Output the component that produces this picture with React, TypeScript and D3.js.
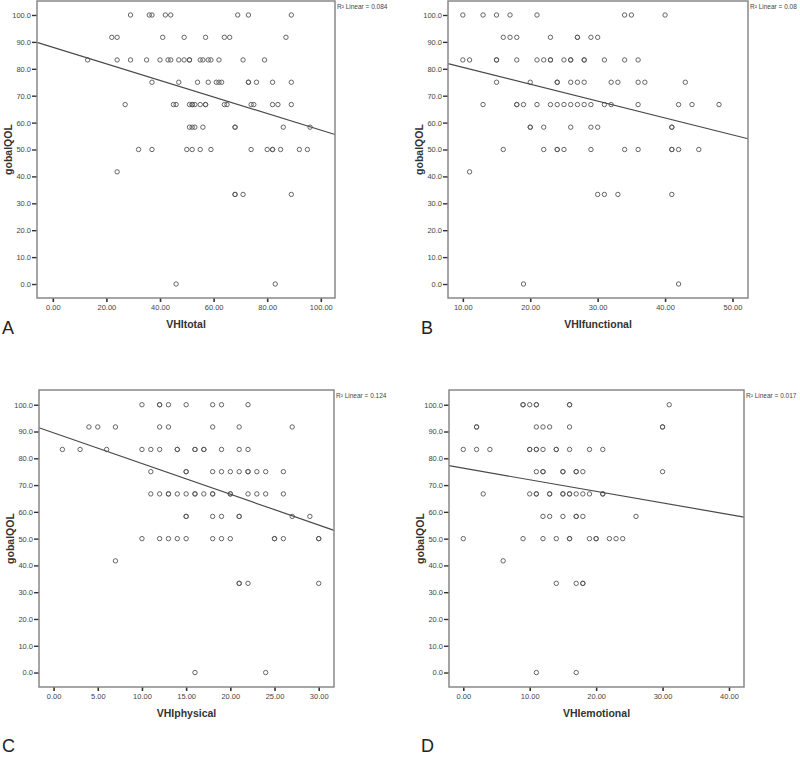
import React, { useEffect, useRef } from 'react';
import * as d3 from 'd3';

// gobalQOL takes only these values; each panel lists the VHI x-values seen at each level
const qolLevels = [100, 91.7, 83.3, 75, 66.7, 58.3, 50, 41.7, 33.3, 0];

const vhiTotal = [
  [29, 36, 37, 42, 44, 69, 73, 89],
  [22, 24, 41, 49, 57, 64, 66, 87],
  [13, 24, 29, 35, 40, 43, 44, 47, 49, 51, 51, 55, 56, 58, 59, 62, 71, 79],
  [37, 47, 54, 58, 61, 62, 63, 73, 73, 76, 82, 89],
  [27, 45, 46, 51, 52, 52, 53, 55, 57, 57, 64, 65, 74, 75, 82, 84, 89],
  [51, 52, 53, 56, 68, 68, 86, 96],
  [32, 37, 50, 52, 55, 59, 74, 80, 82, 82, 85, 92, 95],
  [24],
  [68, 68, 71, 89],
  [46, 83],
];

const vhiFunctional = [
  [10, 13, 15, 17, 21, 34, 35, 40],
  [16, 17, 18, 23, 27, 27, 29, 30],
  [10, 11, 15, 15, 18, 21, 22, 23, 23, 25, 26, 26, 28, 28, 31, 34, 36],
  [15, 20, 24, 24, 26, 27, 28, 32, 33, 36, 37, 43],
  [13, 18, 18, 19, 21, 23, 24, 25, 26, 27, 28, 29, 31, 32, 36, 42, 44, 48],
  [20, 20, 22, 26, 29, 30, 41, 41],
  [16, 22, 24, 24, 25, 29, 34, 36, 41, 41, 42, 45],
  [11],
  [30, 31, 33, 41],
  [19, 42],
];

const vhiPhysical = [
  [10, 12, 12, 13, 15, 18, 19, 22],
  [4, 5, 7, 12, 13, 18, 21, 27],
  [1, 3, 6, 10, 11, 12, 14, 14, 16, 16, 17, 17, 19, 21, 22],
  [11, 15, 15, 18, 19, 20, 21, 22, 22, 23, 24, 26],
  [11, 12, 13, 13, 14, 15, 16, 16, 17, 18, 18, 20, 20, 22, 23, 24, 26],
  [15, 15, 18, 19, 21, 21, 27, 29],
  [10, 12, 13, 14, 15, 18, 19, 20, 25, 25, 26, 30, 30],
  [7],
  [21, 21, 22, 30],
  [16, 24],
];

const vhiEmotional = [
  [9, 9, 10, 11, 11, 16, 16, 31],
  [2, 2, 11, 12, 13, 16, 30, 30],
  [0, 2, 4, 10, 10, 11, 11, 12, 14, 14, 16, 19, 21],
  [11, 12, 12, 15, 15, 17, 17, 18, 30],
  [3, 10, 11, 11, 13, 13, 15, 15, 16, 16, 17, 18, 19, 21, 21],
  [12, 13, 15, 17, 17, 18, 26],
  [0, 9, 12, 14, 16, 16, 19, 20, 20, 22, 23, 24],
  [6],
  [14, 17, 18, 18],
  [11, 17],
];

// [intercept, slope] of the linear fit lines
const fitTotal = [88.0, -0.308];
const fitFunctional = [86.8, -0.627];
const fitPhysical = [89.5, -1.147];
const fitEmotional = [76.3, -0.432];

const rSquared = ['0.084', '0.08', '0.124', '0.017'];
const xTitles = ['VHItotal', 'VHIfunctional', 'VHIphysical', 'VHIemotional'];
const panelLetters = ['A', 'B', 'C', 'D'];
const xTicksTotal = [0, 20, 40, 60, 80, 100];
const xTicksFunctional = [10, 20, 30, 40, 50];
const xTicksPhysical = [0, 5, 10, 15, 20, 25, 30];
const xTicksEmotional = [0, 10, 20, 30, 40];
const yTicks = [0, 10, 20, 30, 40, 50, 60, 70, 80, 90, 100];

const panels = [
  { data: vhiTotal, fit: fitTotal, xTicks: xTicksTotal, xDomain: [-5.9, 105.3], yDomain: [-5.2, 105.2], box: [37, 1, 335, 298], letter: [2, 334] },
  { data: vhiFunctional, fit: fitFunctional, xTicks: xTicksFunctional, xDomain: [7.8, 52.3], yDomain: [-5.2, 105.2], box: [448, 1, 748, 298], letter: [421, 334] },
  { data: vhiPhysical, fit: fitPhysical, xTicks: xTicksPhysical, xDomain: [-1.65, 31.73], yDomain: [-5.4, 105.5], box: [39, 390, 334, 687], letter: [2, 752] },
  { data: vhiEmotional, fit: fitEmotional, xTicks: xTicksEmotional, xDomain: [-2.15, 42.26], yDomain: [-5.4, 105.5], box: [449, 390, 744, 687], letter: [421, 752] },
];

const FONT = '"Liberation Sans", Arial, sans-serif';

export default function App() {
  const svgRef = useRef<SVGSVGElement>(null);

  useEffect(() => {
    const svg = d3.select(svgRef.current);
    svg.selectAll('*').remove();

    panels.forEach((p, i) => {
      const [x0, y0, x1, y1] = p.box;
      const x = d3.scaleLinear().domain(p.xDomain).range([x0, x1]);
      const y = d3.scaleLinear().domain(p.yDomain).range([y1, y0]);
      const g = svg.append('g').attr('font-family', FONT);

      // 點
      const pts: [number, number][] = [];
      p.data.forEach((row, k) => row.forEach(v => pts.push([v, qolLevels[k]])));
      g.selectAll('circle.pt')
        .data(pts)
        .enter()
        .append('circle')
        .attr('class', 'pt')
        .attr('cx', d => x(d[0]))
        .attr('cy', d => y(d[1]))
        .attr('r', 2.2)
        .attr('fill', 'none')
        .attr('stroke', '#555')
        .attr('stroke-width', 0.9);

      // 迴歸線
      const line = d3.line<number>().x(d => x(d)).y(d => y(p.fit[0] + p.fit[1] * d));
      g.append('path')
        .attr('d', line(p.xDomain))
        .attr('fill', 'none')
        .attr('stroke', '#4a4a4a')
        .attr('stroke-width', 1.2);

      // axes
      const ax = g.append('g')
        .attr('transform', `translate(0,${y1})`)
        .call(d3.axisBottom(x).tickValues(p.xTicks).tickFormat(d3.format('.2f')).tickSize(4).tickPadding(3));
      ax.select('.domain').remove();
      ax.selectAll('line').attr('stroke', '#333').attr('stroke-width', 1.6);
      ax.selectAll('text').attr('fill', '#444').attr('font-size', 7.5).attr('font-family', FONT);

      const ay = g.append('g')
        .attr('transform', `translate(${x0},0)`)
        .call(d3.axisLeft(y).tickValues(yTicks).tickFormat(d3.format('.1f')).tickSize(5).tickPadding(1));
      ay.select('.domain').remove();
      ay.selectAll('line').attr('stroke', '#333').attr('stroke-width', 1.4);
      ay.selectAll('text').attr('fill', '#444').attr('font-size', 7.5).attr('font-family', FONT);

      // frame
      g.append('rect')
        .attr('x', x0)
        .attr('y', y0)
        .attr('width', x1 - x0)
        .attr('height', y1 - y0)
        .attr('fill', 'none')
        .attr('stroke', '#888')
        .attr('stroke-width', 1.5);

      g.append('text')
        .attr('x', x1 + 2)
        .attr('y', y0 + 8)
        .attr('font-size', 6.5)
        .attr('fill', '#444')
        .text(`R² Linear = ${rSquared[i]}`);

      g.append('text')
        .attr('x', (x0 + x1) / 2)
        .attr('y', y1 + 30)
        .attr('text-anchor', 'middle')
        .attr('font-size', 10.5)
        .attr('font-weight', 'bold')
        .attr('fill', '#333')
        .text(xTitles[i]);

      g.append('text')
        .attr('transform', `translate(${x0 - 29},${(y0 + y1) / 2}) rotate(-90)`)
        .attr('text-anchor', 'middle')
        .attr('dominant-baseline', 'central')
        .attr('font-size', 10.5)
        .attr('font-weight', 'bold')
        .attr('fill', '#333')
        .text('gobalQOL');

      g.append('text')
        .attr('x', p.letter[0])
        .attr('y', p.letter[1])
        .attr('font-size', 18)
        .attr('fill', '#222')
        .text(panelLetters[i]);
    });
  }, []);

  return (
    <svg
      ref={svgRef}
      width={800}
      height={757}
      style={{ position: 'absolute', left: 0, top: 0, background: '#fff' }}
    />
  );
}
